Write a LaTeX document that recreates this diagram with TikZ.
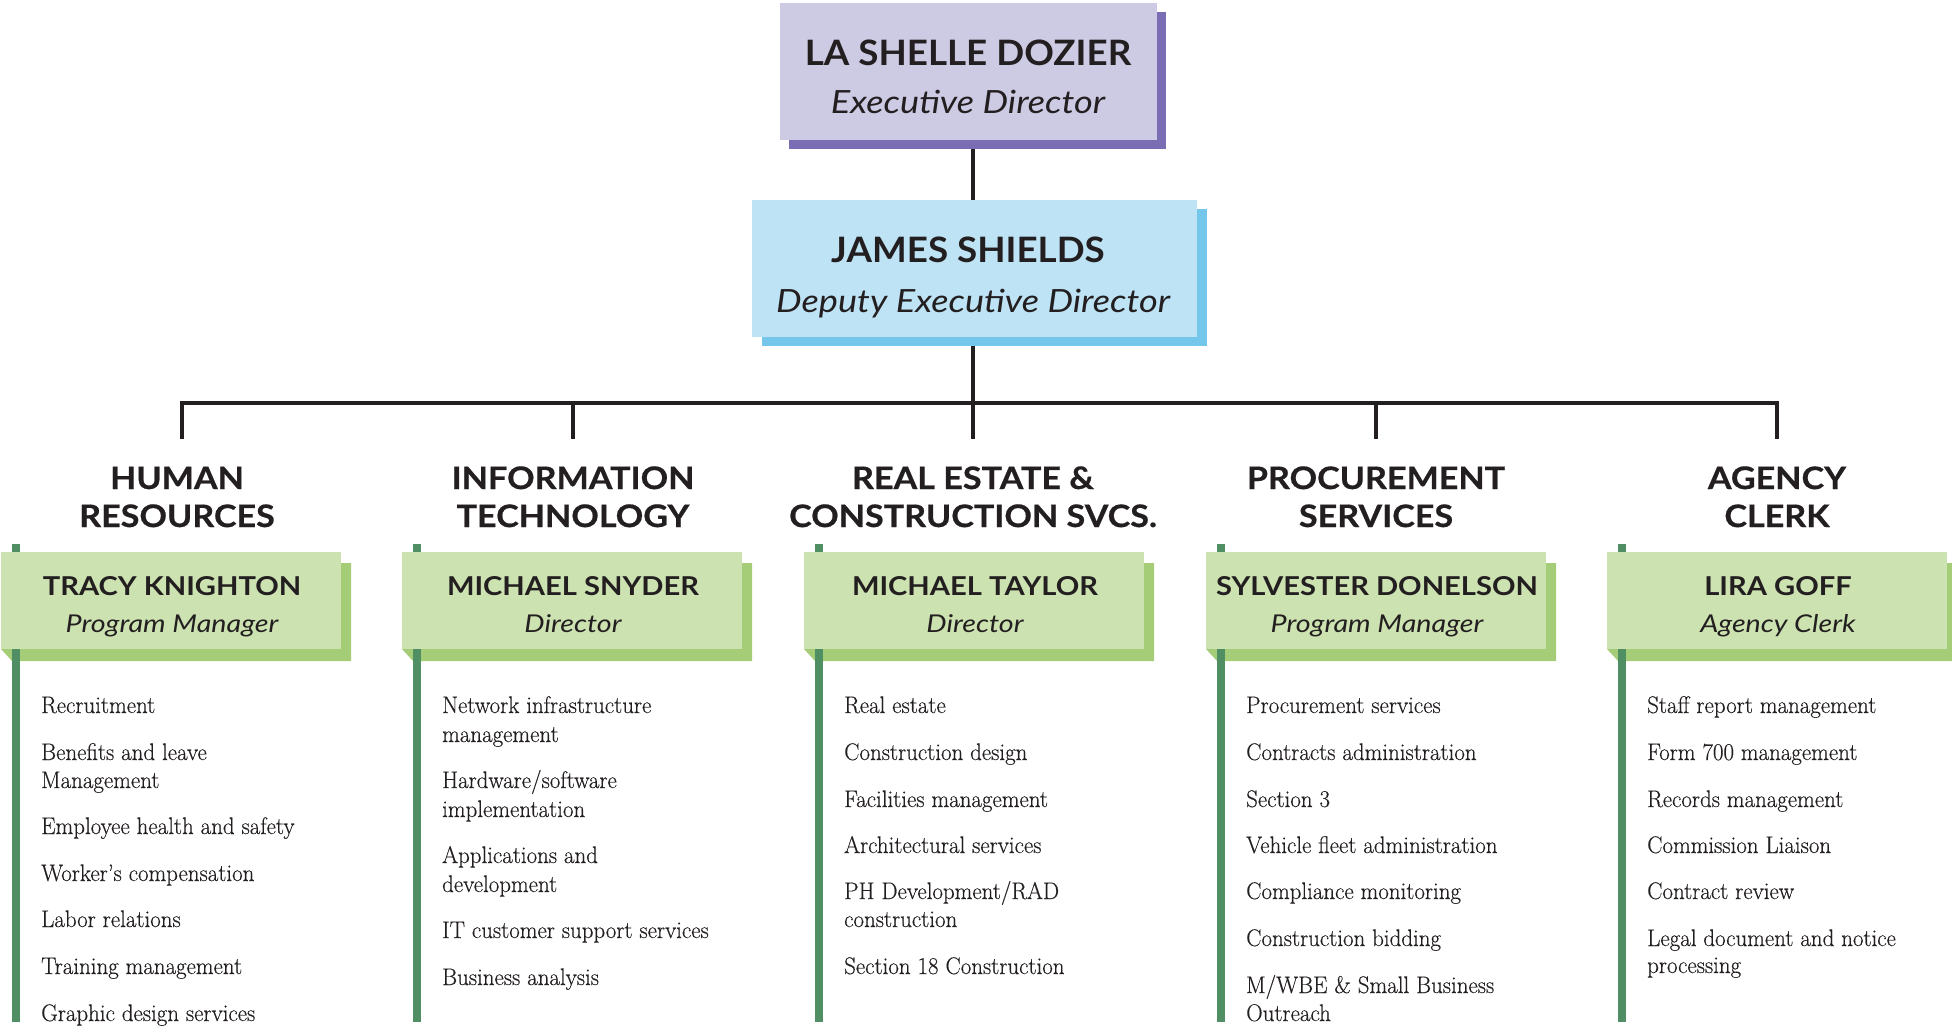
\documentclass[tikz,border=0pt]{standalone}
\usepackage{fontspec}
\setmainfont{Latin Modern Roman}
\newfontfamily\itemfont{Latin Modern Roman}[FakeStretch=0.955, FakeBold=0.35]
\newfontfamily\topnamefont{Lato}[FakeStretch=1.05]
\newfontfamily\toprolefont{Lato}[FakeStretch=1.13]
\newfontfamily\headfont{Lato}[FakeStretch=1.1, FakeBold=0.6]
\newfontfamily\gnamefont{Lato}[FakeStretch=1.12]
\newfontfamily\grolefont{Lato}[FakeStretch=1.17]
\usetikzlibrary{backgrounds}

\definecolor{ink}{HTML}{231F20}
\definecolor{lavbox}{HTML}{CDCAE4}
\definecolor{lavshade}{HTML}{7A6DB4}
\definecolor{bluebox}{HTML}{BEE3F5}
\definecolor{blueshade}{HTML}{74C7EB}
\definecolor{gbox}{HTML}{CCE2B1}
\definecolor{gshade}{HTML}{A5CD78}
\definecolor{gbar}{HTML}{4F8F63}

\tikzset{
  boxshape/.style={rectangle, inner sep=0pt, minimum width=#1},
  txt/.style={anchor=base, inner sep=0pt, text=ink},
  topname/.style={txt, font=\topnamefont\bfseries\fontsize{35}{40}\selectfont},
  toprole/.style={txt, font=\toprolefont\itshape\fontsize{32}{38}\selectfont},
  headline/.style={txt, font=\headfont\bfseries\fontsize{31}{38}\selectfont},
  gname/.style={txt, font=\gnamefont\bfseries\fontsize{26}{30}\selectfont},
  grole/.style={txt, font=\grolefont\itshape\fontsize{24.5}{28}\selectfont},
  itm/.style={anchor=base west, inner sep=0pt, text=ink, font=\itemfont\fontsize{24}{28}\selectfont},
  link/.style={draw=ink, line width=3.6pt, line join=miter},
}

% one department: shadow, side rule, title box, name and role
\newcommand\dept[4]{%
  \fill[gshade] (#2,649) -- (#2+11,661) -- (#2+350,661) -- (#2+350,563)
     -- (#2+340,563) -- (#2+340,649) -- cycle;
  \fill[gbar] (#2+11,544) rectangle (#2+19,1022);
  \node[boxshape=340pt, minimum height=97pt, fill=gbox] (#1) at (#2+170,600.5) {};
  \node[gname] (#1-name) at (#2+171,595) {#3};
  \node[grole] (#1-role) at (#2+171,632) {#4};
}

\begin{document}
\begin{tikzpicture}[x=1pt, y=-1pt]
\useasboundingbox (0,0) rectangle (1952,1031);

% executive director
\fill[lavshade] (789,12) rectangle (1166,149);
\node[boxshape=377pt, minimum height=137pt, fill=lavbox] (exec) at (968.5,71.5) {};
\node[topname] (exec-name) at (968,65) {LA SHELLE DOZIER};
\node[toprole] (exec-role) at (968,113) {Executive Director};

% deputy executive director
\fill[blueshade] (762,209) rectangle (1207,346);
\node[boxshape=445pt, minimum height=137pt, fill=bluebox] (deputy) at (974.5,268.5) {};
\node[topname] (deputy-name) at (968,262) {JAMES SHIELDS};
\node[toprole] (deputy-role) at (973,312) {Deputy Executive Director};

% branch points on the horizontal rule and the ends of the drops
\coordinate (hub) at (973,403);
\coordinate (t1) at (182,403);  \coordinate (e1) at (182,439);
\coordinate (t2) at (573,403);  \coordinate (e2) at (573,439);
\coordinate (e3) at (973,439);
\coordinate (t4) at (1376,403); \coordinate (e4) at (1376,439);
\coordinate (t5) at (1777,403); \coordinate (e5) at (1777,439);

\begin{scope}[on background layer]
  \draw[link] (exec.south -| hub) -- (deputy.north -| hub);
  \draw[link] (deputy.south -| hub) -- (e3);
  \draw[link] (e1) -- (t1) -- (t5) -- (e5);
  \draw[link] (t2) -- (e2);
  \draw[link] (t4) -- (e4);
\end{scope}

% department headings
\node[headline] (h1a) at (177,489) {HUMAN};
\node[headline] (h1b) at (177,527) {RESOURCES};
\node[headline] (h2a) at (573,489) {INFORMATION};
\node[headline] (h2b) at (573,527) {TECHNOLOGY};
\node[headline] (h3a) at (973,489) {REAL ESTATE \&};
\node[headline] (h3b) at (973,527) {CONSTRUCTION SVCS.};
\node[headline] (h4a) at (1376,489) {PROCUREMENT};
\node[headline] (h4b) at (1376,527) {SERVICES};
\node[headline] (h5a) at (1777,489) {AGENCY};
\node[headline] (h5b) at (1777,527) {CLERK};

% department title boxes
\dept{hr}{1}{TRACY KNIGHTON}{Program Manager}
\dept{it}{402}{MICHAEL SNYDER}{Director}
\dept{re}{804}{MICHAEL TAYLOR}{Director}
\dept{ps}{1206}{SYLVESTER DONELSON}{Program Manager}
\dept{ac}{1607}{LIRA GOFF}{Agency Clerk}

% human resources duties
\node[itm] (hr1) at (41,713) {Recruitment};
\node[itm] (hr2) at (41,760) {Benefits and leave};
\node[itm] (hr2b) at (41,788) {Management};
\node[itm] (hr3) at (41,834) {Employee health and safety};
\node[itm] (hr4) at (41,881) {Worker’s compensation};
\node[itm] (hr5) at (41,927) {Labor relations};
\node[itm] (hr6) at (41,974) {Training management};
\node[itm] (hr7) at (41,1021) {Graphic design services};

% information technology duties
\node[itm] (it1) at (442,713) {Network infrastructure};
\node[itm] (it1b) at (442,742) {management};
\node[itm] (it2) at (442,788) {Hardware/software};
\node[itm] (it2b) at (442,817) {implementation};
\node[itm] (it3) at (442,863) {Applications and};
\node[itm] (it3b) at (442,892) {development};
\node[itm] (it4) at (442,938) {IT customer support services};
\node[itm] (it5) at (442,985) {Business analysis};

% real estate and construction duties
\node[itm] (re1) at (844,713) {Real estate};
\node[itm] (re2) at (844,760) {Construction design};
\node[itm] (re3) at (844,807) {Facilities management};
\node[itm] (re4) at (844,853) {Architectural services};
\node[itm] (re5) at (844,899) {PH Development/RAD};
\node[itm] (re5b) at (844,927) {construction};
\node[itm] (re6) at (844,974) {Section 18 Construction};

% procurement duties
\node[itm] (ps1) at (1246,713) {Procurement services};
\node[itm] (ps2) at (1246,760) {Contracts administration};
\node[itm] (ps3) at (1246,807) {Section 3};
\node[itm] (ps4) at (1246,853) {Vehicle fleet administration};
\node[itm] (ps5) at (1246,899) {Compliance monitoring};
\node[itm] (ps6) at (1246,946) {Construction bidding};
\node[itm] (ps7) at (1246,993) {M/WBE \& Small Business};
\node[itm] (ps7b) at (1246,1021) {Outreach};

% agency clerk duties
\node[itm] (ac1) at (1647,713) {Staff report management};
\node[itm] (ac2) at (1647,760) {Form 700 management};
\node[itm] (ac3) at (1647,807) {Records management};
\node[itm] (ac4) at (1647,853) {Commission Liaison};
\node[itm] (ac5) at (1647,899) {Contract review};
\node[itm] (ac6) at (1647,946) {Legal document and notice};
\node[itm] (ac6b) at (1647,973) {processing};
\end{tikzpicture}
\end{document}
